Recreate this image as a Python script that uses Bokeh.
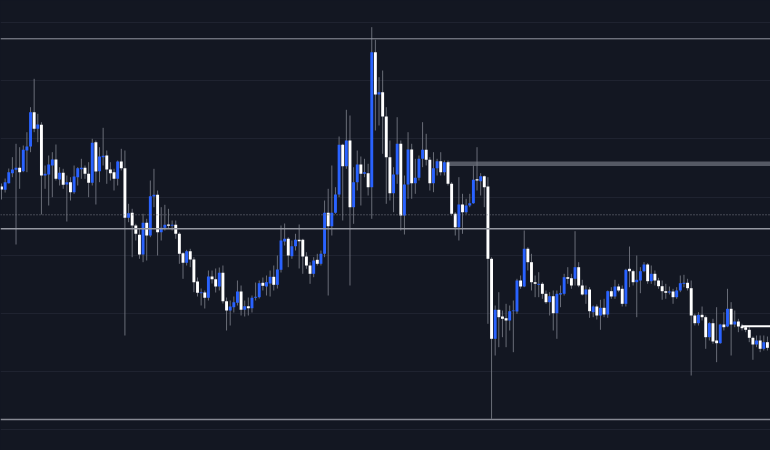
from bokeh.plotting import figure
from bokeh.models import Range1d, FixedTicker, ColumnDataSource, Span, Grid
from bokeh.embed import file_html
from bokeh.resources import INLINE

# ---- candle data (price units) ----
opens = [
    264, 260.7, 267.3, 277.3, 280.7, 282.7, 279.3, 300, 304, 338.3,
    321.7, 325.7, 275, 276, 285, 291, 271, 277.7, 266, 268.3,
    258.3, 273.3, 281.3, 282.7, 276.7, 267.7, 308.3, 279.3, 293.3, 295,
    281, 278.3, 271.7, 289, 282.3, 232.7, 237.7, 225, 215.7, 196,
    227.7, 215, 254, 255.7, 218.3, 222.7, 226, 224.7, 225.7, 216.7,
    197.3, 187.7, 199.3, 191, 169, 157.3, 158, 152.7, 174, 171.3,
    164, 177.7, 149.3, 140, 143.3, 147.7, 159, 140.7, 144.3, 142.3,
    152.7, 153.3, 167.7, 164, 167, 173.7, 165.7, 180.7, 209, 211.7,
    194.3, 204.3, 210.7, 210.7, 194, 185, 176.7, 190.7, 186.7, 196.7,
    237.7, 224.3, 237.7, 256, 305.7, 284.3, 310, 243.3, 268.3, 286,
    276.7, 277.3, 263.3, 398.3, 356, 358.3, 334, 293.3, 257.3, 276,
    306.7, 235, 266, 301, 267.3, 272.7, 291.7, 300.7, 290.7, 267.3,
    282.3, 289.3, 278.3, 288.3, 266.7, 236.7, 223.3, 246, 238.3, 245,
    247.3, 271.3, 269.3, 274.3, 264, 191.7, 111.7, 140.7, 134, 132.3,
    130, 139.3, 139, 170, 164, 201.7, 188.3, 168.3, 165.7, 166.7,
    156.7, 148.3, 154.3, 137.3, 156, 156.7, 173.3, 172.3, 171.7, 183.3,
    165, 156, 161, 138.3, 144, 135, 142.7, 136, 159.3, 154,
    164, 161.7, 146.7, 181.7, 179.3, 168.3, 170, 179.3, 186, 169.3,
    176.7, 170, 164.3, 159.3, 158, 159, 153.3, 160, 166.7, 167.7,
    162.3, 135, 127.3, 135.7, 133.3, 113.3, 127.3, 110, 107.3, 126,
    124, 141.7, 126, 129, 124, 123.3, 120.7, 112.7, 106, 110,
    101.7, 108.3,
]
highs = [
    267, 272, 282, 293.3, 306.7, 303.3, 305, 318.3, 343.3, 371.7,
    336.7, 328.3, 285, 295, 298.3, 306, 283.3, 281.7, 275, 273.3,
    285, 283.3, 291.7, 285, 288.3, 311.7, 310, 303.3, 322.7, 300,
    288.3, 281.7, 290, 301.7, 300, 246.7, 241.7, 226.7, 221.7, 236.7,
    231.7, 270, 281.7, 260, 243.3, 245.7, 241.7, 230, 230, 218.3,
    198.3, 200.7, 201.7, 193.3, 173, 162, 160, 180, 180, 182,
    183, 185, 153, 150, 154, 170, 165, 150, 153, 155,
    168, 170, 173, 175, 180, 185, 195, 225, 227, 213.3,
    210, 216.7, 226, 211.7, 198.3, 188.3, 193.3, 196.7, 200, 250,
    261.7, 285, 263.3, 314, 306.7, 340.7, 335, 283.3, 300, 294,
    291.7, 286.7, 423.3, 410.7, 373.3, 380, 343.3, 310, 283.3, 333.3,
    310, 275, 318.3, 306.7, 291.7, 295, 328.3, 316.7, 293.3, 298.3,
    291.7, 298.3, 290, 290, 268.3, 238.3, 273.3, 256.7, 251.7, 256.7,
    285, 303.3, 277.3, 275, 273.3, 193.3, 145, 158.3, 140, 146.7,
    145, 150, 171.7, 175, 220, 203.3, 196.7, 175, 178.3, 168.3,
    160, 158.3, 160, 160, 165, 176.7, 183.3, 176.7, 219.3, 188.3,
    170.7, 165, 163.3, 145, 146, 150.7, 151.7, 160, 163.3, 170.7,
    166.7, 165, 181.7, 204, 180.7, 195, 183.3, 188.3, 187.3, 185,
    180, 172.7, 170, 166.7, 164, 161.7, 163.3, 175, 175.7, 171.7,
    170, 136.7, 138.3, 144, 135, 128.3, 131.7, 143.3, 126.7, 138.3,
    161.7, 148.3, 140, 131.7, 126.7, 125, 123.3, 114, 115, 115,
    115, 114,
]
lows = [
    251, 258, 267, 273.3, 206, 261.7, 278.3, 278.3, 298.3, 318.3,
    308.3, 236, 261.7, 245, 253.3, 270, 265, 261.7, 229, 250,
    256.7, 265, 271.7, 271.7, 253.3, 265, 246, 268.3, 285, 266.7,
    270, 260, 265, 280, 115, 228.3, 193.3, 210, 191.7, 188.3,
    190, 213.3, 243.3, 195, 210, 220, 221.7, 220, 211.7, 186.7,
    171.7, 185, 183.3, 158.3, 154, 145, 142, 150, 167, 158,
    160, 147, 120, 125, 138, 145, 135, 134, 135, 138,
    150, 152, 160, 155, 154, 160, 162, 178, 205, 183.3,
    191.7, 200, 182, 176.7, 181.7, 166.7, 173.3, 185, 185, 193.3,
    155, 215, 236.7, 253.3, 230, 281.7, 165, 226.7, 260, 245,
    273.3, 255, 231.7, 320, 325, 296.7, 246.7, 250, 238.3, 266.7,
    220, 216, 251.7, 251.7, 256.7, 270, 283.3, 285, 260, 258.3,
    275, 275, 275, 265, 235, 215, 210, 216.7, 236.7, 243.3,
    246.7, 260, 255, 243.3, 126.7, 31.7, 95, 103.3, 113.3, 103.3,
    120, 98.3, 136.7, 161.7, 163.3, 180, 160, 153.3, 153.3, 151.7,
    146.7, 135, 120, 111.7, 143.3, 155, 166.7, 161.7, 165, 163.3,
    155, 146.7, 132.7, 133.3, 131, 120.7, 133.3, 132.7, 151.7, 151.7,
    158.3, 144, 144, 163.3, 165, 133.3, 157.3, 178.3, 166.7, 166.7,
    165, 161.7, 150.7, 151.7, 156, 146.7, 151.7, 158.3, 163.3, 160,
    75, 125, 125, 130, 101.7, 110, 106.7, 88.3, 106.7, 120,
    123.3, 95, 123.3, 118.3, 120, 118.3, 108.3, 90.7, 103.3, 98.3,
    100, 100,
]
closes = [
    261, 268.3, 278.3, 281, 282.7, 278.3, 300.7, 304, 338.3, 321.7,
    326, 275, 276.7, 286, 291, 271.7, 277.7, 265.7, 268.3, 258.3,
    274, 282.3, 282.7, 276.7, 267.7, 307.7, 279, 294, 294.7, 281,
    277.3, 271.7, 289, 282.3, 232.7, 237.3, 225, 216.7, 196, 227.7,
    215, 254.3, 255.7, 218.3, 222.7, 225.7, 224.7, 225.7, 216.7, 196.7,
    187.7, 199.3, 191, 168.3, 157.7, 158.3, 152.7, 174, 171.3, 164,
    177.7, 149.3, 140, 144, 148.3, 159, 140.7, 144.3, 142.3, 152.7,
    153.7, 167.3, 164.7, 168.3, 173.7, 165.7, 181, 210, 211.7, 195,
    204.3, 210.7, 209.3, 194, 185, 176.7, 190, 186.7, 196.7, 237.7,
    224.3, 237.7, 256, 305.7, 284.3, 310, 243.3, 268.3, 286, 276.7,
    278.3, 263.3, 398.3, 356, 358.3, 334, 293.3, 257.3, 276, 306.7,
    235, 266, 301, 267.3, 272.7, 291.7, 300.7, 290.7, 267.3, 282.3,
    289.3, 278.3, 288.3, 266.7, 236.7, 223.3, 246, 238.3, 245, 247.3,
    270.7, 270, 274.3, 263.3, 191.7, 111.7, 140.7, 133.3, 131.7, 130,
    139.3, 140, 170, 164, 201.7, 188.3, 168.3, 166.7, 166.7, 156.7,
    148.3, 154.3, 137.3, 156.7, 157.3, 173.3, 171.7, 165, 183.3, 165,
    156, 161, 139.3, 144, 135, 142.7, 136, 159.3, 154, 164,
    160, 146.7, 180.7, 179.3, 168.3, 170.7, 179.3, 186, 169.3, 176.7,
    170, 164.3, 159.3, 157.7, 159, 153.3, 160, 167.3, 167.7, 162.3,
    135, 127.3, 135.7, 133.3, 113.3, 127.3, 109, 107.3, 126, 123.3,
    141.7, 126, 129, 124, 122.3, 120.7, 112.7, 106, 110, 101.7,
    108.3, 102.7,
]

# ---- reference levels ----
grid_levels = [428.0, 369.8, 311.6, 253.4, 195.2, 137.0, 78.9, 20.7]
level_high = 411.7
level_mid = 221.7
level_low = 31.0
level_dotted = 235.7
zone_bottom, zone_top, zone_start = 284.4, 289.0, 122.8
last_level, last_start = 124.3, 203.85

BG = "#131722"
UP = "#2962ff"
DOWN = "#ffffff"
WICK = "#787b86"

n = min(len(opens), len(highs), len(lows), len(closes))
xs = list(range(n))
src = ColumnDataSource(dict(
    x=xs,
    high=highs[:n],
    low=lows[:n],
    top=[max(o, c) for o, c in zip(opens[:n], closes[:n])],
    bottom=[min(o, c) for o, c in zip(opens[:n], closes[:n])],
    color=[UP if c >= o else DOWN for o, c in zip(opens[:n], closes[:n])],
))

W, H = 770, 450
x0 = -0.2755
span = W / 3.63
p = figure(width=W, height=H, output_backend="svg", toolbar_location=None,
           x_range=Range1d(x0, x0 + span), y_range=Range1d(0, 450),
           x_axis_location=None, y_axis_location=None,
           min_border=0, min_border_left=0, min_border_right=0,
           min_border_top=0, min_border_bottom=0,
           background_fill_color=BG, border_fill_color=BG,
           outline_line_color=None)
p.grid.visible = False
g = Grid(dimension=1, ticker=FixedTicker(ticks=grid_levels),
         grid_line_color="#1f2330", grid_line_width=1)
p.add_layout(g)

# zone band
p.quad(left=[zone_start], right=[x0 + span + 1], bottom=[zone_bottom], top=[zone_top],
       fill_color="#5d606b", fill_alpha=0.9, line_color=None)

# horizontal levels
p.add_layout(Span(location=level_high, dimension="width", line_color="#9598a1", line_width=1))
p.add_layout(Span(location=level_mid, dimension="width", line_color="#9598a1", line_width=1.5))
p.add_layout(Span(location=level_low, dimension="width", line_color="#868993", line_width=1.5))
p.add_layout(Span(location=level_dotted, dimension="width", line_color="#787b86",
                  line_width=1, line_dash="1 2"))

# candles
p.segment(x0="x", y0="low", x1="x", y1="high", source=src,
          line_color=WICK, line_alpha=0.85, line_width=1)
p.vbar(x="x", top="top", bottom="bottom", width=0.8, source=src,
       fill_color="color", line_color=None)

# last level line
p.segment(x0=[last_start], x1=[x0 + span + 1], y0=[last_level], y1=[last_level],
          line_color="#ffffff", line_width=2)

html = file_html(p, INLINE)
html = html.replace("<head>", "<head><style>html,body{margin:0;padding:0;background:#131722;overflow:hidden;}</style>", 1)
open("out.html", "w").write(html)
